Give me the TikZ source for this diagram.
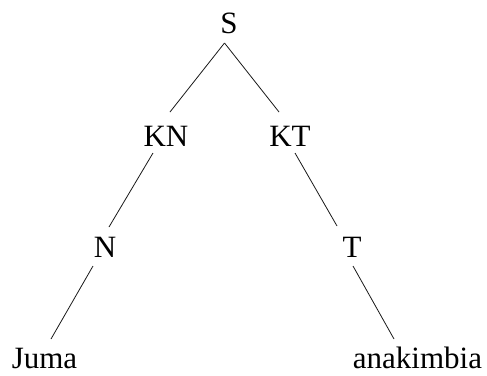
\documentclass[tikz,border=0pt]{standalone}
\usepackage{fontspec}
\setmainfont{Liberation Serif}
\begin{document}
\begin{tikzpicture}[x=1pt,y=-1pt,
  lab/.style={anchor=base,inner sep=0pt,font=\fontsize{31}{37}\selectfont},
  edge/.style={line width=0.8pt,black!90}]
\useasboundingbox (0,0) rectangle (487,375);
\node[lab] (S) at (229,33) {S};
\node[lab] (KN) at (166,146) {KN};
\node[lab] (KT) at (290,146) {KT};
\node[lab] (N) at (105,257) {N};
\node[lab] (T) at (352,257) {T};
\node[lab] (J) at (44.5,368) {Juma};
\node[lab] (A) at (417.5,368) {anakimbia};
\draw[edge] ([shift={(-4.5,10)}]S.base) -- ([shift={(4,-34)}]KN.base);
\draw[edge] ([shift={(-4.5,10)}]S.base) -- ([shift={(-11,-34)}]KT.base);
\draw[edge] ([shift={(-13,7)}]KN.base) -- ([shift={(4,-30)}]N.base);
\draw[edge] ([shift={(5,7)}]KT.base) -- ([shift={(-15,-31)}]T.base);
\draw[edge] ([shift={(-12,9)}]N.base) -- ([shift={(6.5,-29)}]J.base);
\draw[edge] ([shift={(1,9)}]T.base) -- ([shift={(-23.5,-29)}]A.base);
\end{tikzpicture}
\end{document}
